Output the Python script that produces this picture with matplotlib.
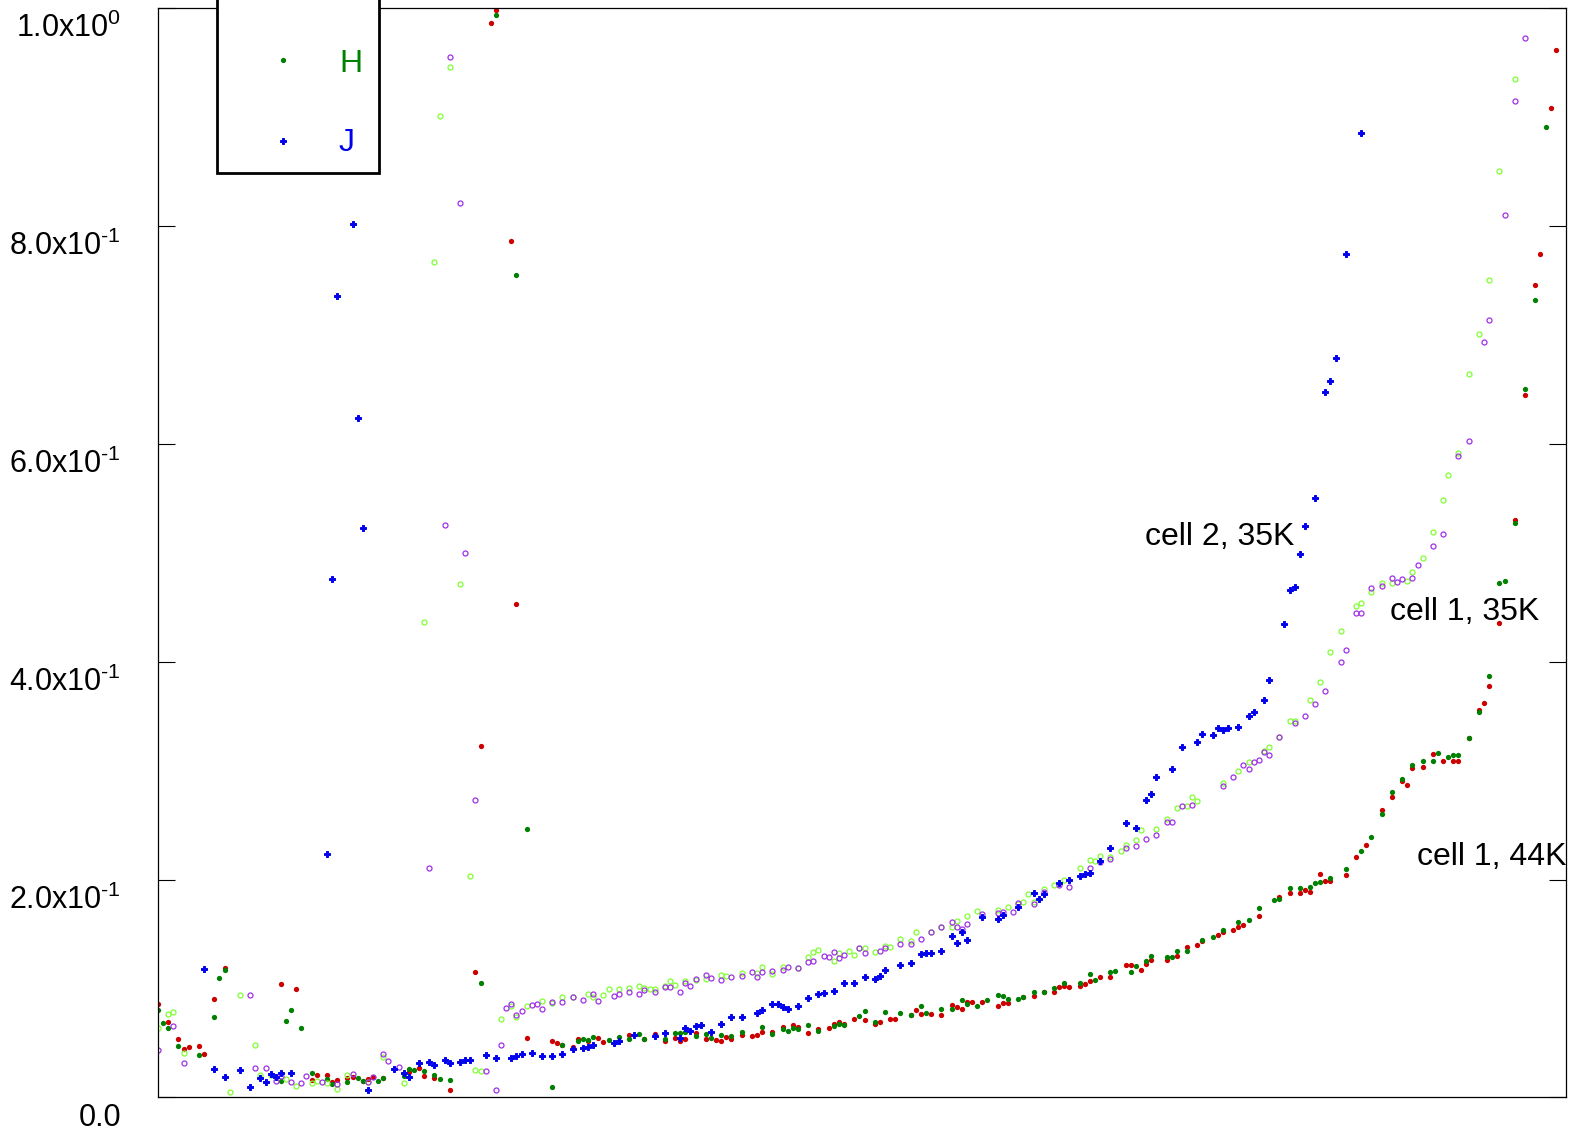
import matplotlib
matplotlib.use("Agg")
import matplotlib.pyplot as plt
from matplotlib.patches import Rectangle
from matplotlib.lines import Line2D
from matplotlib.transforms import blended_transform_factory, ScaledTranslation

plt.rcParams['font.family'] = ['Liberation Sans', 'DejaVu Sans']
plt.rcParams['mathtext.fontset'] = 'custom'
plt.rcParams['mathtext.rm'] = 'Liberation Sans'

# Data (x = sample index, y = value)
red_x = [0, 2, 4, 5, 6, 8, 9, 11, 13, 24, 27, 30, 31, 33, 34, 35, 37, 38, 40, 41,
         42, 44, 49, 51, 52, 54, 57, 62, 63, 65, 66, 69, 70, 72, 77, 78, 79, 81, 82, 84,
         86, 87, 92, 95, 97, 99, 101, 102, 103, 105, 107, 109, 110, 111, 112, 114, 116, 117, 118, 120,
         122, 124, 125, 127, 129, 131, 132, 133, 134, 136, 138, 140, 141, 143, 144, 147, 148, 149, 151, 153,
         155, 156, 157, 158, 159, 161, 164, 165, 166, 169, 171, 173, 175, 176, 177, 178, 180, 181, 182, 184,
         186, 189, 190, 192, 193, 194, 197, 199, 201, 203, 204, 207, 208, 210, 211, 212, 215, 219, 221, 223,
         224, 225, 227, 228, 229, 232, 234, 236, 239, 241, 243, 244, 245, 247, 249, 251, 253, 254, 256, 258,
         259, 260, 262, 265, 267, 269, 270, 272, 273]
red_y = [0.0855, 0.0695, 0.0533, 0.0447, 0.0466, 0.047, 0.040, 0.090, 0.119, 0.1039, 0.0998, 0.016, 0.0206, 0.0203, 0.0144, 0.016, 0.0181, 0.019, 0.0154, 0.0169,
         0.0187, 0.0178, 0.0236, 0.0267, 0.0197, 0.0181, 0.0071, 0.1149, 0.3224, 0.9866, 0.9988, 0.7867, 0.4531, 0.0548, 0.052, 0.050, 0.0484, 0.0466, 0.0533, 0.052,
         0.0545, 0.0512, 0.057, 0.0536, 0.0585, 0.0518, 0.0545, 0.0521, 0.054, 0.0589, 0.054, 0.0527, 0.0521, 0.0552, 0.0533, 0.0573, 0.0567, 0.0576, 0.0598, 0.0604,
         0.0649, 0.0665, 0.0649, 0.0591, 0.0628, 0.064, 0.0677, 0.069, 0.0677, 0.072, 0.0708, 0.0674, 0.0695, 0.0717, 0.0717, 0.0757, 0.0803, 0.0766, 0.0763, 0.0754,
         0.0851, 0.0827, 0.0809, 0.0873, 0.0876, 0.0876, 0.0839, 0.0864, 0.0867, 0.0925, 0.0928, 0.0971, 0.0965, 0.1014, 0.1026, 0.1017, 0.1023, 0.1041, 0.1069, 0.1106,
         0.1106, 0.1219, 0.1219, 0.117, 0.1222, 0.1265, 0.1265, 0.1295, 0.1384, 0.1402, 0.1436, 0.1488, 0.1522, 0.154, 0.1562, 0.158, 0.1669, 0.184, 0.1877, 0.1877,
         0.1907, 0.1889, 0.2054, 0.199, 0.199, 0.2045, 0.221, 0.2318, 0.2639, 0.2759, 0.2905, 0.2869, 0.3028, 0.3037, 0.3151, 0.3092, 0.3092, 0.3092, 0.33, 0.356,
         0.3622, 0.3775, 0.4356, 0.53, 0.6453, 0.7463, 0.7748, 0.9088, 0.9621]

green_x = [0, 1, 2, 4, 8, 11, 12, 13, 24, 25, 26, 28, 30, 33, 34, 37, 39, 40, 43, 44,
           48, 49, 50, 52, 54, 55, 57, 63, 66, 70, 72, 77, 79, 82, 83, 84, 85, 88, 90, 92,
           94, 95, 99, 101, 102, 103, 105, 107, 108, 110, 112, 114, 118, 120, 122, 123, 124, 125, 127, 129,
           132, 133, 134, 137, 138, 140, 142, 145, 147, 149, 150, 153, 155, 157, 158, 160, 162, 164, 165, 166,
           168, 169, 171, 173, 175, 177, 180, 182, 183, 186, 187, 190, 191, 193, 194, 197, 198, 199, 201, 204,
           206, 208, 211, 213, 215, 218, 219, 221, 223, 225, 226, 227, 229, 232, 235, 237, 239, 241, 243, 245,
           247, 249, 250, 252, 253, 254, 256, 258, 260, 262, 263, 265, 267, 269, 271]
green_y = [0.080, 0.0686, 0.064, 0.0472, 0.039, 0.0738, 0.1094, 0.1167, 0.015, 0.0704, 0.0803, 0.064, 0.0224, 0.0169, 0.0123, 0.0141, 0.0175, 0.0154, 0.0154, 0.0178,
           0.0197, 0.0258, 0.0249, 0.0243, 0.0206, 0.0172, 0.016, 0.1054, 0.9936, 0.7549, 0.2461, 0.0098, 0.0484, 0.0515, 0.054, 0.0527, 0.0558, 0.0527, 0.0552, 0.054,
           0.058, 0.0536, 0.0536, 0.0594, 0.0594, 0.060, 0.0561, 0.0585, 0.0548, 0.0576, 0.0567, 0.060, 0.0644, 0.0585, 0.0631, 0.0613, 0.064, 0.0631, 0.0665, 0.061,
           0.0653, 0.0677, 0.0662, 0.0747, 0.0791, 0.0695, 0.0787, 0.0778, 0.0757, 0.0837, 0.0778, 0.0815, 0.0815, 0.0894, 0.0855, 0.0842, 0.0891, 0.094, 0.0931, 0.0904,
           0.0904, 0.092, 0.0968, 0.0971, 0.1002, 0.105, 0.105, 0.1133, 0.1075, 0.1154, 0.1163, 0.1149, 0.1207, 0.1252, 0.1298, 0.1289, 0.1292, 0.1344, 0.1344, 0.1445,
           0.1476, 0.1537, 0.1608, 0.1632, 0.1742, 0.181, 0.1822, 0.1926, 0.192, 0.1929, 0.1972, 0.1978, 0.2017, 0.2094, 0.2263, 0.2391, 0.2602, 0.2804, 0.2927, 0.3055,
           0.3092, 0.3092, 0.3163, 0.3123, 0.3144, 0.3144, 0.33, 0.3539, 0.387, 0.4726, 0.4745, 0.5278, 0.6508, 0.7325, 0.8908]

lgreen_x = [0, 2, 3, 5, 14, 16, 19, 20, 22, 25, 27, 30, 31, 33, 35, 37, 41, 44, 48, 52,
            54, 55, 57, 59, 61, 62, 63, 67, 69, 70, 72, 75, 77, 79, 81, 84, 85, 87, 88, 90,
            92, 94, 95, 96, 97, 99, 100, 101, 103, 105, 107, 110, 111, 114, 117, 118, 120, 122, 125, 127,
            128, 129, 132, 133, 135, 136, 137, 138, 140, 142, 143, 145, 147, 148, 151, 153, 155, 156, 158, 160,
            164, 166, 168, 169, 170, 171, 173, 175, 177, 180, 182, 183, 184, 186, 188, 189, 191, 192, 195, 197,
            199, 201, 202, 203, 208, 211, 213, 216, 217, 219, 221, 222, 225, 227, 229, 231, 234, 235, 237, 239,
            241, 244, 245, 247, 249, 251, 252, 254, 256, 258, 260, 262, 265]
lgreen_y = [0.0635, 0.0769, 0.078, 0.0408, 0.0052, 0.094, 0.048, 0.0208, 0.0203, 0.0169, 0.0107, 0.0132, 0.0153, 0.0135, 0.0077, 0.0208, 0.0141, 0.037, 0.0135, 0.4366,
            0.7671, 0.9009, 0.9462, 0.4716, 0.2036, 0.0252, 0.024, 0.072, 0.0839, 0.0735, 0.0839, 0.0888, 0.0867, 0.0922, 0.0919, 0.0949, 0.0925, 0.094, 0.0998, 0.0993,
            0.1007, 0.1026, 0.1002, 0.0999, 0.0998, 0.1023, 0.1066, 0.1032, 0.1069, 0.1078, 0.109, 0.1121, 0.1112, 0.1142, 0.1142, 0.1197, 0.113, 0.1195, 0.1186, 0.1287,
            0.1338, 0.1354, 0.1255, 0.1323, 0.1347, 0.1308, 0.1369, 0.1369, 0.1338, 0.1393, 0.1384, 0.1457, 0.1436, 0.1516, 0.1519, 0.1562, 0.1568, 0.1617, 0.1669, 0.1709,
            0.1724, 0.1746, 0.1773, 0.1794, 0.1868, 0.1794, 0.1914, 0.195, 0.1999, 0.2107, 0.2177, 0.2174, 0.2214, 0.2205, 0.2266, 0.2315, 0.2364, 0.2455, 0.2467, 0.2559,
            0.266, 0.2679, 0.2756, 0.2725, 0.2884, 0.2997, 0.3083, 0.3181, 0.3218, 0.3307, 0.3456, 0.3456, 0.3649, 0.3812, 0.409, 0.4286, 0.4512, 0.454, 0.4644, 0.4724,
            0.4726, 0.4742, 0.4827, 0.4953, 0.5189, 0.5483, 0.5718, 0.5914, 0.6646, 0.701, 0.7509, 0.8507, 0.9355]

purple_x = [0, 3, 5, 18, 19, 21, 23, 24, 26, 28, 29, 32, 35, 38, 41, 42, 44, 45, 47, 53,
            56, 57, 59, 60, 62, 64, 66, 67, 68, 69, 70, 71, 73, 74, 75, 77, 79, 81, 83, 85,
            86, 89, 90, 92, 94, 95, 97, 99, 100, 102, 103, 104, 105, 107, 108, 110, 112, 114, 116, 117,
            118, 120, 122, 123, 125, 127, 128, 130, 131, 132, 133, 134, 137, 138, 141, 142, 145, 147, 149, 151,
            153, 155, 156, 157, 158, 161, 164, 165, 167, 168, 171, 173, 176, 178, 182, 184, 186, 189, 191, 193,
            195, 197, 198, 200, 202, 208, 210, 212, 213, 214, 215, 216, 217, 219, 222, 224, 226, 228, 231, 232,
            234, 235, 237, 239, 241, 242, 243, 245, 246, 249, 251, 254, 256, 259, 260, 263, 265, 267]
purple_y = [0.0438, 0.0653, 0.0316, 0.0943, 0.0273, 0.0267, 0.0148, 0.0197, 0.0141, 0.0135, 0.0199, 0.0144, 0.0126, 0.0218, 0.0141, 0.0187, 0.040, 0.0337, 0.0282, 0.2103,
            0.526, 0.9554, 0.8213, 0.5003, 0.2735, 0.024, 0.0071, 0.0481, 0.0821, 0.0858, 0.076, 0.0793, 0.0848, 0.086, 0.0812, 0.0879, 0.0876, 0.0919, 0.0897, 0.0952,
            0.0888, 0.0928, 0.095, 0.097, 0.095, 0.099, 0.097, 0.1014, 0.1014, 0.0968, 0.1048, 0.1026, 0.1087, 0.1127, 0.11, 0.1075, 0.1109, 0.1118, 0.1154, 0.1106,
            0.1152, 0.1161, 0.1173, 0.1195, 0.1186, 0.1246, 0.1255, 0.1301, 0.1292, 0.1332, 0.128, 0.131, 0.1369, 0.1329, 0.1347, 0.1375, 0.1411, 0.1406, 0.1457, 0.1519,
            0.1562, 0.1613, 0.1568, 0.155, 0.1595, 0.1687, 0.169, 0.1702, 0.1705, 0.1785, 0.1776, 0.1883, 0.195, 0.1935, 0.2104, 0.2165, 0.2186, 0.2293, 0.2309, 0.237,
            0.241, 0.2529, 0.2532, 0.2676, 0.2685, 0.286, 0.2939, 0.305, 0.3013, 0.3083, 0.3098, 0.3172, 0.3147, 0.3307, 0.3441, 0.35, 0.3615, 0.3732, 0.3995, 0.4105,
            0.4445, 0.4448, 0.468, 0.4699, 0.4767, 0.4733, 0.4763, 0.477, 0.4892, 0.5063, 0.5176, 0.589, 0.603, 0.694, 0.7139, 0.8106, 0.9147, 0.9731]

blue_x = [9, 11, 13, 16, 18, 20, 21, 22, 23, 24, 26, 33, 34, 35, 38, 39, 40, 41, 46, 48,
          49, 51, 53, 54, 56, 57, 59, 60, 61, 64, 66, 69, 70, 71, 73, 75, 77, 79, 81, 83,
          84, 85, 89, 90, 93, 97, 99, 102, 103, 104, 105, 106, 108, 110, 112, 114, 117, 118, 120, 121,
          122, 123, 125, 127, 129, 130, 132, 134, 136, 138, 140, 141, 142, 145, 147, 149, 150, 151, 153, 155,
          156, 157, 158, 161, 164, 165, 168, 171, 172, 173, 176, 178, 180, 181, 182, 184, 186, 189, 191, 193,
          194, 195, 198, 200, 203, 204, 206, 207, 208, 209, 211, 213, 214, 216, 217, 220, 221, 222, 223, 224,
          226, 228, 229, 230, 232, 235]
blue_y = [0.118, 0.026, 0.0184, 0.0254, 0.0098, 0.0175, 0.0144, 0.0218, 0.019, 0.0227, 0.0227, 0.2233, 0.4762, 0.7362, 0.8023, 0.6242, 0.523, 0.0071, 0.0264, 0.0224,
          0.0187, 0.0316, 0.0325, 0.0295, 0.034, 0.0316, 0.0325, 0.034, 0.034, 0.0387, 0.0362, 0.0365, 0.0383, 0.0401, 0.0408, 0.0377, 0.0383, 0.0399, 0.0444, 0.0457,
          0.0466, 0.0481, 0.050, 0.0521, 0.0573, 0.0567, 0.0589, 0.0545, 0.064, 0.0613, 0.0656, 0.0665, 0.0598, 0.0671, 0.0735, 0.0738, 0.0778, 0.0803, 0.0855, 0.0855,
          0.0833, 0.0812, 0.0837, 0.0916, 0.0947, 0.0961, 0.0977, 0.1048, 0.1054, 0.1109, 0.109, 0.1118, 0.117, 0.1216, 0.1231, 0.1314, 0.1326, 0.1326, 0.1342, 0.1482,
          0.1415, 0.1516, 0.1443, 0.1659, 0.1638, 0.1675, 0.1751, 0.1874, 0.1822, 0.1868, 0.1969, 0.1996, 0.2036, 0.2051, 0.2058, 0.2171, 0.2287, 0.2517, 0.2477, 0.2734,
          0.2786, 0.2939, 0.3019, 0.322, 0.3264, 0.334, 0.3331, 0.3392, 0.3377, 0.3389, 0.3404, 0.35, 0.3539, 0.3646, 0.3833, 0.435, 0.4662, 0.469, 0.4993, 0.525,
          0.5507, 0.6477, 0.6581, 0.679, 0.7745, 0.8859]

ytick_vals = [0.0, 0.2, 0.4, 0.6, 0.8, 1.0]
ytick_labels = ['0.0', r'$\mathregular{2.0x10^{‐1}}$', r'$\mathregular{4.0x10^{‐1}}$',
                r'$\mathregular{6.0x10^{‐1}}$', r'$\mathregular{8.0x10^{‐1}}$', r'$\mathregular{1.0x10^{0}}$']
legend_names = ['H', 'J']
notes = ['cell 2, 35K', 'cell 1, 35K', 'cell 1, 44K']

W, H = 1575, 1136


def fx(px):
    return px / W


def fy(py):
    return 1 - py / H


fig = plt.figure(figsize=(W / 100, H / 100), dpi=100)
ax = fig.add_axes([fx(158), fy(1097.4), 1408 / W, 1089.1 / H])

ax.plot(red_x, red_y, 'o', ms=3.8, color='#cc0000', mec='none')
ax.plot(green_x, green_y, 'o', ms=3.8, color='#008000', mec='none')
ax.plot(lgreen_x, lgreen_y, 'o', ms=3.6, mfc='none', mec='#80ff30', mew=0.9)
ax.plot(purple_x, purple_y, 'o', ms=3.6, mfc='none', mec='#a030e8', mew=0.9)
ax.plot(blue_x, blue_y, 'P', ms=4.2, color='#0000ee', mec='#0000ee', mew=0.7)

ax.set_xlim(0, 275)
ax.set_ylim(0, 1)
ax.set_xticks([])
ax.set_yticks(ytick_vals)
ax.tick_params(axis='y', direction='in', length=12.2, width=0.8,
               left=True, right=True, labelleft=False)
for s in ax.spines.values():
    s.set_linewidth(0.9)

# tick labels sit a little below their ticks
trans = blended_transform_factory(ax.transAxes, ax.transData) + \
    ScaledTranslation(0, -29 / 100, fig.dpi_scale_trans)
for v, lab in zip(ytick_vals, ytick_labels):
    ax.text(-37 / 1408, v, lab, transform=trans, ha='right', va='baseline',
            fontsize=22, clip_on=False)

# legend box, partly outside the top of the figure
box = Rectangle((fx(217), fy(173)), (378.7 - 217) / W, 0.4, transform=fig.transFigure,
                facecolor='white', edgecolor='black', lw=2.0, clip_on=False, zorder=5)
fig.add_artist(box)
fig.add_artist(Line2D([fx(283)], [fy(60.3)], marker='o', ms=3.8, color='#008000',
                      mec='none', transform=fig.transFigure, zorder=6))
fig.add_artist(Line2D([fx(283)], [fy(141.3)], marker='P', ms=4.2, color='#0000ee',
                      mec='#0000ee', mew=0.7, transform=fig.transFigure, zorder=6))
fig.text(fx(339), fy(72.3), legend_names[0], color='#008000', fontsize=23,
         va='baseline', ha='left', zorder=6)
fig.text(fx(339), fy(151), legend_names[1], color='#0000ee', fontsize=23,
         va='baseline', ha='left', zorder=6)

fig.text(fx(1145), fy(545), notes[0], fontsize=23, va='baseline', ha='left')
fig.text(fx(1390), fy(620), notes[1], fontsize=23, va='baseline', ha='left')
fig.text(fx(1417), fy(865), notes[2], fontsize=23, va='baseline', ha='left')

fig.savefig('out.png', dpi=100, facecolor='white')
